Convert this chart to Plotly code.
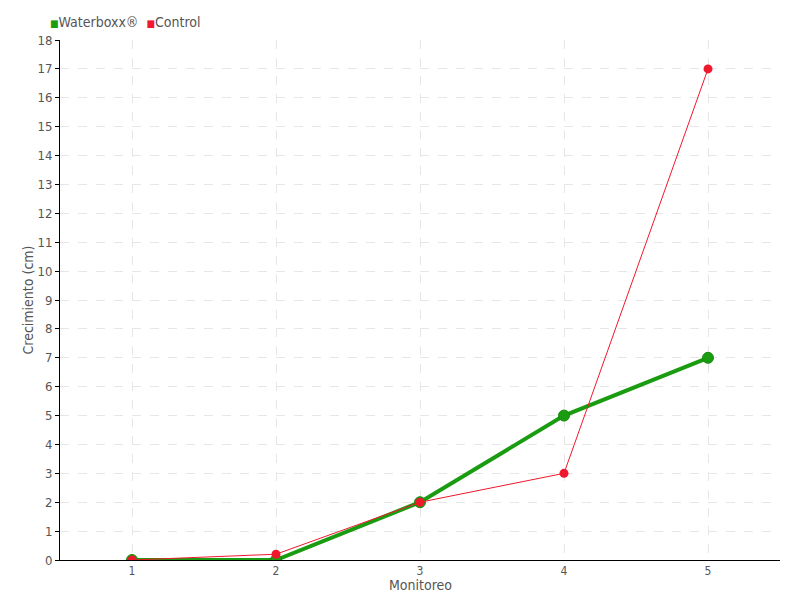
import plotly.graph_objects as go

monitoreo = [1, 2, 3, 4, 5]
waterboxx = [0, 0, 2, 5, 7]
control = [0, 0.2, 2, 3, 17]

GREEN = "#1a9c10"
RED = "#f0182c"
FONT = "DejaVu Sans Condensed"

fig = go.Figure()

fig.add_trace(go.Scatter(
    x=monitoreo, y=waterboxx, mode="lines+markers", name="Waterboxx®",
    line=dict(color=GREEN, width=4),
    marker=dict(color=GREEN, size=11, line=dict(color="#178a0e", width=1)),
))
fig.add_trace(go.Scatter(
    x=monitoreo, y=control, mode="lines+markers", name="Control",
    line=dict(color=RED, width=1),
    marker=dict(color=RED, size=9),
))

# legend drawn as text with small square keys, like the original
legend_text = (
    f"<span style='color:{GREEN};font-size:10px'>■</span>Waterboxx®  "
    f"<span style='color:{RED};font-size:10px'>■</span>Control"
)
fig.add_annotation(
    text=legend_text, xref="paper", yref="paper", x=-0.016, y=1.0,
    xanchor="left", yanchor="middle", yshift=18, showarrow=False,
    font=dict(size=14, color="#555555"),
)
# x axis title placed just under the tick labels
fig.add_annotation(
    text="Monitoreo", xref="paper", yref="paper", x=0.5, y=0.0,
    xanchor="center", yanchor="middle", yshift=-25, showarrow=False,
    font=dict(size=14, color="#555555"),
)

# the page body adds an 8px margin, so the figure is 8px smaller each way
fig.update_layout(
    width=792, height=592,
    paper_bgcolor="white", plot_bgcolor="white",
    margin=dict(l=52, r=20, t=32, b=40),
    font=dict(family=FONT, size=13, color="#555555"),
    showlegend=False,
    xaxis=dict(
        range=[0.5, 5.5], tickvals=monitoreo, ticktext=[str(v) for v in monitoreo],
        showline=True, linecolor="black", linewidth=1,
        ticks="", automargin=False, ticklabelstandoff=0,
        tickfont=dict(size=12),
        showgrid=True, gridcolor="#e6e6e6", griddash="dash",
        zeroline=False,
    ),
    yaxis=dict(
        range=[0, 18], dtick=1, automargin=False,
        showline=True, linecolor="black", linewidth=1,
        ticks="outside", ticklen=4, tickcolor="black",
        showgrid=True, gridcolor="#e6e6e6", griddash="dash",
        zeroline=False,
        title=dict(text="Crecimiento (cm)", standoff=0, font=dict(size=14)),
    ),
)

fig.write_html("out.html")
